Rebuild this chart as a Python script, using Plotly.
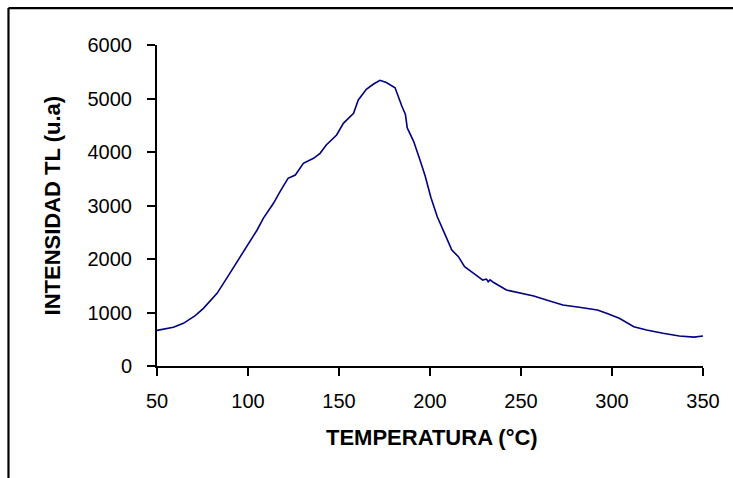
import plotly.graph_objects as go

temperature = [50, 55, 59, 64.5, 71, 75.5, 83, 90, 95.6, 101, 105, 108.4, 114, 117.6, 122, 126,
               130.4, 136, 139.6, 143, 148.7, 152.4, 158, 160.6, 165, 169, 172.5, 176, 180.8,
               184.5, 186.5, 187.5, 191, 194.5, 197.3, 200.5, 204, 208, 212, 215.6, 219, 224,
               229, 231, 232, 233, 235, 242, 249.5, 257, 264, 273, 282, 292, 297, 304, 312,
               319, 328, 337, 345, 350]
intensity = [665, 690, 723, 798, 940, 1078, 1358, 1732, 2043, 2324, 2542, 2760, 3041, 3258, 3508, 3570,
             3788, 3882, 3975, 4131, 4318, 4536, 4723, 4972, 5171, 5271, 5340, 5300, 5200,
             4860, 4700, 4450, 4200, 3850, 3555, 3150, 2790, 2480, 2168, 2043, 1856, 1732,
             1607, 1625, 1575, 1610, 1560, 1420, 1358, 1308, 1234, 1140, 1097, 1047, 985, 891, 735,
             673, 611, 561, 540, 561]

x_ticks = [50, 100, 150, 200, 250, 300, 350]
y_ticks = [0, 1000, 2000, 3000, 4000, 5000, 6000]

FONT = "Liberation Sans, Arial, sans-serif"

fig = go.Figure()
fig.add_trace(go.Scatter(x=temperature, y=intensity, mode="lines",
                         line=dict(color="#000080", width=1.6), showlegend=False,
                         hoverinfo="skip"))

axis_common = dict(showline=True, linecolor="black", linewidth=2, ticks="outside",
                   ticklen=8, tickwidth=2, tickcolor="black", showgrid=False, zeroline=False,
                   tickfont=dict(family=FONT, size=20, color="black"))
fig.update_xaxes(range=[50, 350], tickvals=x_ticks, ticklabelstandoff=8, **axis_common)
fig.update_yaxes(range=[0, 6000], tickvals=y_ticks, ticklabelstandoff=11, **axis_common)

fig.add_annotation(text="<b>TEMPERATURA (°C)</b>", xref="paper", yref="paper",
                   x=0.503, y=-0.224, xanchor="center", yanchor="middle", showarrow=False,
                   font=dict(family=FONT, size=22, color="black"))
fig.add_annotation(text="<b>INTENSIDAD TL (u.a)</b>", xref="paper", yref="paper",
                   x=-0.1905, y=0.5, xanchor="center", yanchor="middle",
                   textangle=-90, showarrow=False,
                   font=dict(family=FONT, size=22, color="black"))

# outer chart frame (only top and left edges fall inside the view)
frame = dict(color="black", width=2.2)
fig.add_shape(type="line", xref="paper", yref="paper",
              x0=-0.272, y0=1.115, x1=1.2, y1=1.115, line=frame, layer="below")
fig.add_shape(type="line", xref="paper", yref="paper",
              x0=-0.272, y0=1.115, x1=-0.272, y1=-0.5, line=frame, layer="below")

fig.update_layout(width=733, height=478, margin=dict(l=157, r=30, t=45, b=112),
                  plot_bgcolor="white", paper_bgcolor="white")

fig.write_html("out.html", config={"displayModeBar": False},
               post_script="document.body.style.margin='0';document.body.style.overflow='hidden';")
